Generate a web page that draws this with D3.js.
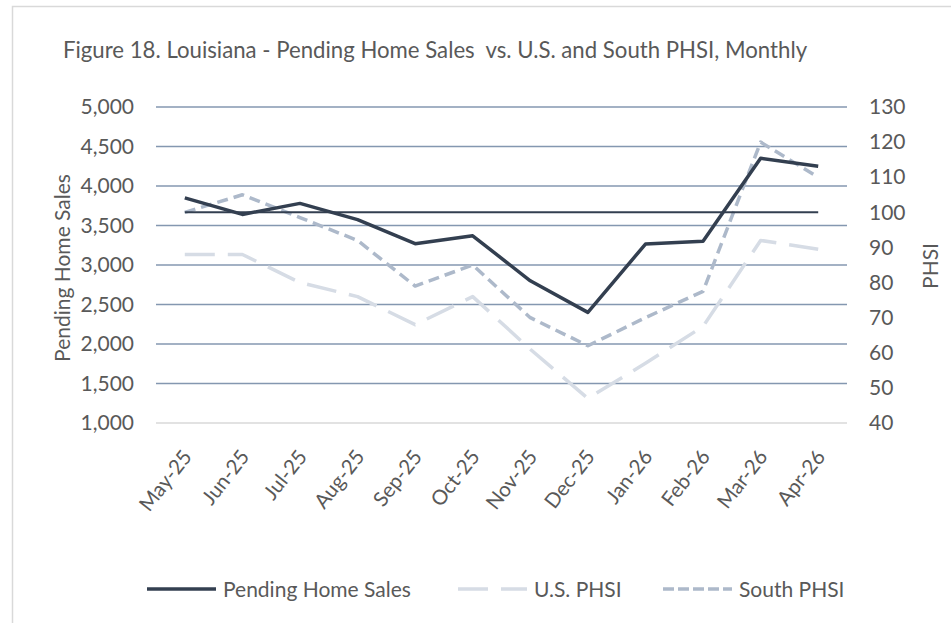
<!DOCTYPE html>
<html>
<head>
<meta charset="utf-8">
<script src="https://cdn.jsdelivr.net/npm/d3@7/dist/d3.min.js"></script>
<style>
  body { margin: 0; background: #fff; }
  svg text { font-family: Lato, "Open Sans", sans-serif; fill: #595959; white-space: pre; }
</style>
</head>
<body>
<svg id="chart" width="951" height="623"></svg>
<script>
var months = ['May-25', 'Jun-25', 'Jul-25', 'Aug-25', 'Sep-25', 'Oct-25',
  'Nov-25', 'Dec-25', 'Jan-26', 'Feb-26', 'Mar-26', 'Apr-26'];
var pendingSales = [3850, 3640, 3780, 3575, 3270, 3370, 2800, 2400, 3265, 3300, 4350, 4250];
var usPhsi = [88, 88, 80, 76, 68, 76, 61, 47, 57, 67.5, 92, 89.5];
var southPhsi = [100, 105, 98.5, 92, 79, 85, 70, 62, 70, 77.5, 120, 110];
var baseline = [100, 100, 100, 100, 100, 100, 100, 100, 100, 100, 100, 100];
var leftTicks = [1000, 1500, 2000, 2500, 3000, 3500, 4000, 4500, 5000];
var rightTicks = [40, 50, 60, 70, 80, 90, 100, 110, 120, 130];

var titleText = 'Figure 18. Louisiana - Pending Home Sales  vs. U.S. and South PHSI, Monthly';

var svg = d3.select('#chart');

svg.append('rect').attr('x', 12.5).attr('y', 6.5)
  .attr('width', 1000).attr('height', 700)
  .attr('fill', 'none').attr('stroke', '#d9d9d9').attr('stroke-width', 1.5);

var x = d3.scalePoint().domain(months).range([156, 847]).padding(0.5);
var yLeft = d3.scaleLinear().domain([1000, 5000]).range([423, 107]);
var yRight = d3.scaleLinear().domain([40, 130]).range([423, 107]);

// gridlines
svg.append('g').selectAll('line').data(leftTicks).enter().append('line')
  .attr('x1', 156).attr('x2', 847)
  .attr('y1', function(d) { return yLeft(d); })
  .attr('y2', function(d) { return yLeft(d); })
  .attr('stroke', function(d) { return d === 1000 ? '#d9d9d9' : '#8497b0'; })
  .attr('stroke-width', 1.6);

// axes
var leftAxis = svg.append('g').attr('transform', 'translate(134,0)')
  .call(d3.axisLeft(yLeft).tickValues(leftTicks).tickSize(0).tickPadding(0).tickFormat(d3.format(',')));
var rightAxis = svg.append('g').attr('transform', 'translate(869,0)')
  .call(d3.axisRight(yRight).tickValues(rightTicks).tickSize(0).tickPadding(0));
var bottomAxis = svg.append('g')
  .call(d3.axisBottom(x).tickSize(0));

[leftAxis, rightAxis, bottomAxis].forEach(function(a) {
  a.select('.domain').remove();
  a.selectAll('text').style('font-size', '21px').attr('fill', '#595959')
    .style('font-family', 'Lato, sans-serif');
});

bottomAxis.selectAll('.tick').attr('transform', function(d) {
  return 'translate(' + (x(d) + 8) + ',457)';
});
bottomAxis.selectAll('.tick text')
  .style('font-size', '20.5px')
  .attr('y', 0).attr('dy', 0)
  .attr('text-anchor', 'end')
  .attr('transform', 'rotate(-52)');

// axis titles
svg.append('text').attr('transform', 'translate(70,268) rotate(-90)')
  .attr('text-anchor', 'middle').style('font-size', '21px').text('Pending Home Sales');
svg.append('text').attr('transform', 'translate(938,266) rotate(-90)')
  .attr('text-anchor', 'middle').style('font-size', '21px').text('PHSI');

// title
svg.append('text').attr('x', 63).attr('y', 58)
  .style('font-size', '22.2px').text(titleText);

// lines
function lineFor(scale) {
  return d3.line()
    .x(function(d, i) { return x(months[i]); })
    .y(function(d) { return scale(d); });
}

var series = [
  { values: usPhsi, scale: yRight, color: '#d6dce5', width: 3.5, dash: '30,13' },
  { values: southPhsi, scale: yRight, color: '#adb9ca', width: 3.5, dash: '11,6' },
  { values: baseline, scale: yRight, color: '#333f50', width: 2, dash: null },
  { values: pendingSales, scale: yLeft, color: '#333f50', width: 3.5, dash: null }
];

svg.append('g').selectAll('path').data(series).enter().append('path')
  .attr('d', function(s) { return lineFor(s.scale)(s.values); })
  .attr('fill', 'none')
  .attr('stroke', function(s) { return s.color; })
  .attr('stroke-width', function(s) { return s.width; })
  .attr('stroke-dasharray', function(s) { return s.dash; })
  .attr('stroke-linejoin', 'round');

// legend
var legendItems = [
  { label: 'Pending Home Sales', color: '#333f50', dash: null, x: 147 },
  { label: 'U.S. PHSI', color: '#d6dce5', dash: '30,13', x: 458 },
  { label: 'South PHSI', color: '#adb9ca', dash: '11,4', x: 663 }
];
var legend = svg.append('g').selectAll('g').data(legendItems).enter().append('g')
  .attr('transform', function(d) { return 'translate(' + d.x + ',589)'; });
legend.append('line').attr('x1', 0).attr('x2', 69).attr('y1', 0).attr('y2', 0)
  .attr('stroke', function(d) { return d.color; })
  .attr('stroke-width', 3.5)
  .attr('stroke-dasharray', function(d) { return d.dash; });
legend.append('text').attr('x', 76).attr('y', 8)
  .style('font-size', '21px').text(function(d) { return d.label; });
</script>
</body>
</html>
